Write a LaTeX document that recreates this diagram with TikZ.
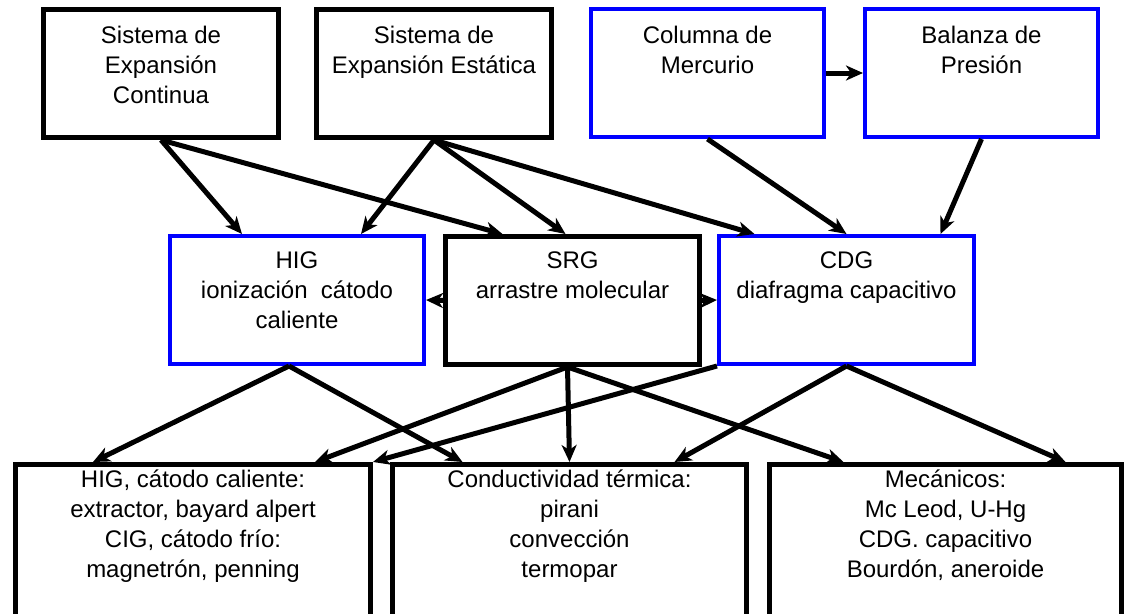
\documentclass[tikz,border=0pt]{standalone}
\usepackage{fontspec}
\setmainfont{Liberation Sans}
\usetikzlibrary{arrows.meta}

\begin{document}
\begin{tikzpicture}
		[x=1pt,y=-1pt,
		caja/.style={draw=black,line width=5pt,anchor=north west,
			inner sep=0pt,minimum height=128pt},
		cajaazul/.style={caja,draw=blue,line width=4pt},
		texto/.style={anchor=north,align=center,inner sep=0pt,
			font=\fontsize{24}{30}\selectfont},
		flecha/.style={line width=5pt,
			-{Stealth[length=17pt,width=15pt,inset=5pt]}}]
		\useasboundingbox (0,0) rectangle (1126,613);
		\clip (0,0) rectangle (1126,613);
		% fila superior
		\node[caja,minimum width=235pt,
			label={[texto,yshift=-19pt]north:Sistema de\\Expansión\\Continua}] (sec) at (41,7) {};
		\node[caja,minimum width=235pt,
			label={[texto,yshift=-19pt]north:Sistema de\\Expansión Estática}] (see) at (314,7) {};
		\node[cajaazul,minimum width=233pt,
			label={[texto,yshift=-19pt]north:Columna de\\Mercurio}] (hg) at (589,7) {};
		\node[cajaazul,minimum width=233pt,
			label={[texto,yshift=-19pt]north:Balanza de\\Presión}] (bal) at (863,7) {};
		% fila central
		\node[cajaazul,minimum width=254pt,
			label={[texto,yshift=-18pt]north:HIG\\ionización\ \ cátodo\\caliente}] (hig) at (168,234) {};
		\node[caja,minimum width=254pt,
			label={[texto,yshift=-18pt]north:SRG\\arrastre molecular}] (srg) at (443,234) {};
		\node[cajaazul,minimum width=255pt,
			label={[texto,yshift=-18pt]north:CDG\\diafragma capacitivo}] (cdg) at (717,234) {};
		% fila inferior
		\node[caja,minimum width=355pt,minimum height=170pt,
			label={[texto,yshift=-8pt]north:HIG, cátodo caliente:\\extractor, bayard alpert\\CIG, cátodo frío:\\magnetrón, penning}] (ion) at (13,462) {};
		\node[caja,minimum width=354pt,minimum height=170pt,
			label={[texto,yshift=-8pt]north:Conductividad térmica:\\pirani\\convección\\termopar}] (ter) at (390,462) {};
		\node[caja,minimum width=352pt,minimum height=170pt,
			label={[texto,yshift=-8pt]north:Mecánicos:\\Mc Leod, U-Hg\\CDG. capacitivo\\Bourdón, aneroide}] (mec) at (767,462) {};
		% flechas
		\draw[flecha] (hg.east) -- (bal.west);
		\draw[flecha] (sec.south) -- ([xshift=-55pt]hig.north);
		\draw[flecha] (sec.south) -- ([xshift=-70pt]srg.north);
		\draw[flecha] (see.south) -- ([xshift=64pt]hig.north);
		\draw[flecha] (see.south) -- ([xshift=-7pt]srg.north);
		\draw[flecha] (see.south) -- ([xshift=-92pt]cdg.north);
		\draw[flecha] (hg.south) -- (cdg.north);
		\draw[flecha] (bal.south) -- ([xshift=94pt]cdg.north);
		\draw[flecha] (srg.west) -- (hig.east);
		\draw[flecha] (srg.east) -- (cdg.west);
		\draw[flecha] ([xshift=-8pt]hig.south) -- ([xshift=-100pt]ion.north);
		\draw[flecha] ([xshift=-8pt]hig.south) -- ([xshift=-107pt]ter.north);
		\draw[flecha] ([xshift=-5pt]srg.south) -- ([xshift=122pt]ion.north);
		\draw[flecha] ([xshift=-5pt]srg.south) -- (ter.north);
		\draw[flecha] ([xshift=-5pt]srg.south) -- ([xshift=-102pt]mec.north);
		\draw[flecha] (cdg.south west) -- (ion.north east);
		\draw[flecha] (cdg.south) -- ([xshift=105pt]ter.north);
		\draw[flecha] (cdg.south) -- ([xshift=120pt]mec.north);
	\end{tikzpicture}
\end{document}
